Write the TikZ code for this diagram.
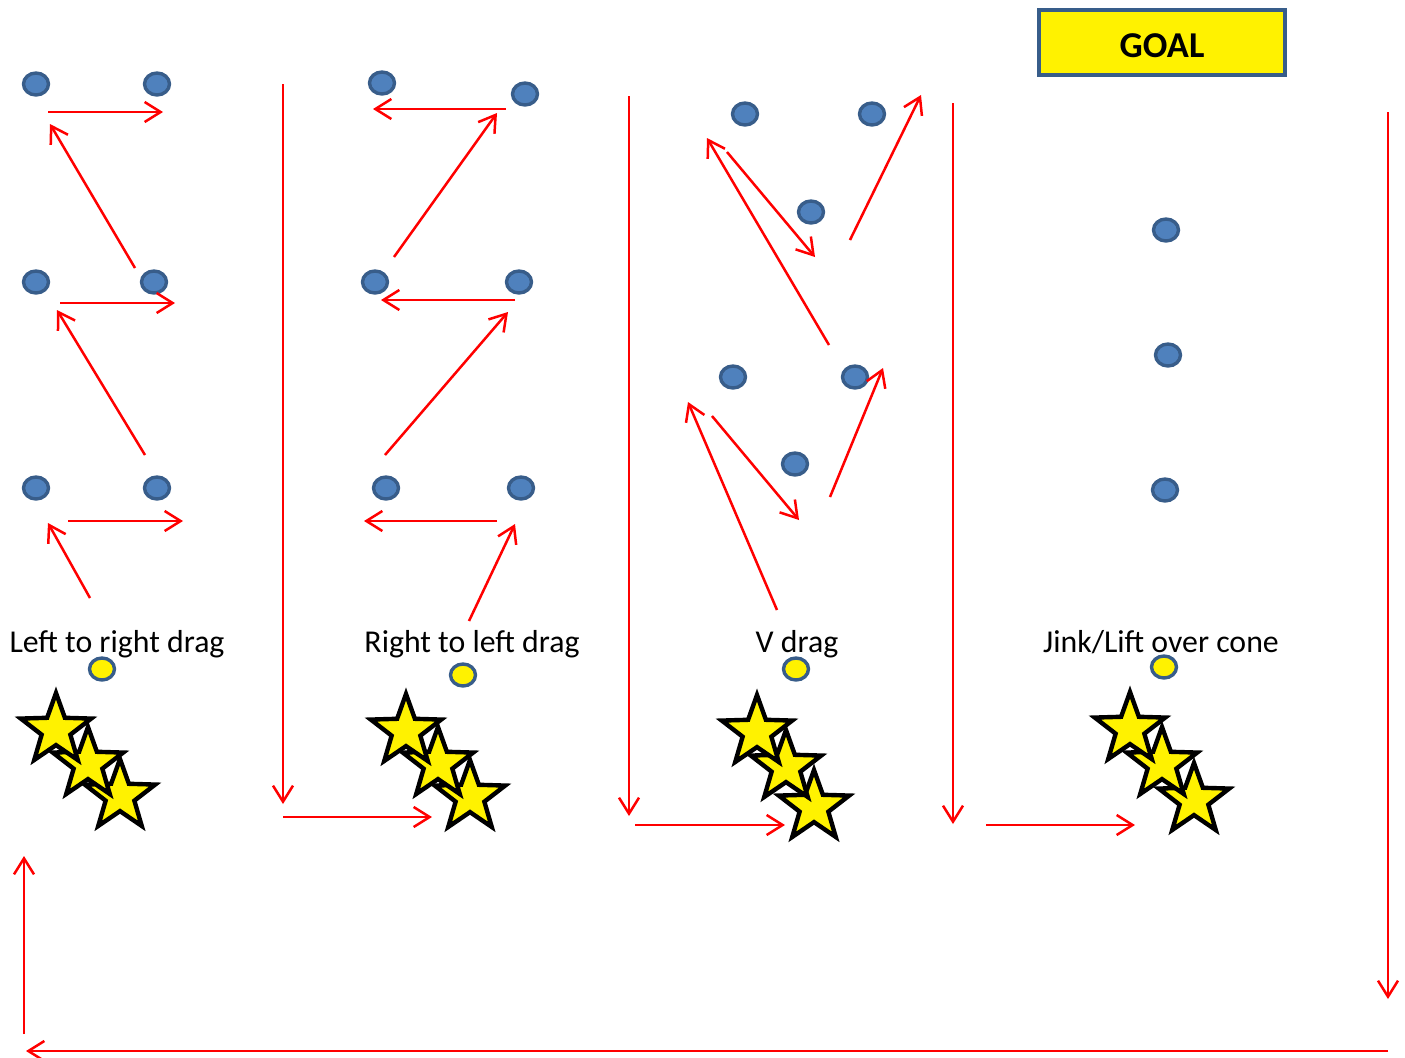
\documentclass[tikz,border=0pt]{standalone}
\usepackage{fontspec}
\setmainfont{Carlito}
\usetikzlibrary{arrows.meta,shapes.geometric}

\definecolor{conefill}{HTML}{4F81BD}
\definecolor{coneedge}{HTML}{385D8A}

\tikzset{
  cone/.style={ellipse, draw=coneedge, fill=conefill, line width=1.7pt,
    minimum width=12.5pt, minimum height=11pt, inner sep=0pt},
  ycone/.style={cone, fill=yellow},
  player/.style={star, star points=5, star point ratio=2.45, draw=black,
    fill=yellow, line width=2.2pt, minimum size=37pt, inner sep=0pt},
  run/.style={draw=red, line width=1.25pt, -{Straight Barb[length=8pt,width=10pt]}},
  drilltext/.style={anchor=base, font=\fontsize{15.9}{19}\selectfont, inner sep=0pt},
  goalbox/.style={rectangle, draw=coneedge, fill=yellow, line width=2pt,
    minimum width=123pt, minimum height=32.5pt, inner sep=0pt},
}

\begin{document}
\begin{tikzpicture}[x=0.5pt, y=-0.5pt]
	\useasboundingbox (0,0) rectangle (1405,1057);

	% goal
	\node[goalbox] (goal) at (1162,42) {};
	\node[font=\fontsize{18.2}{22}\selectfont\bfseries] (goaltxt) at (1162,46) {GOAL};

	% left to right drag
	\node[cone] (c11) at (36,84) {};
	\node[cone] (c12) at (157,84) {};
	\node[cone] (c13) at (36,282) {};
	\node[cone] (c14) at (154,282) {};
	\node[cone] (c15) at (36,488) {};
	\node[cone] (c16) at (157,488) {};
	\node[drilltext] (t1) at (117,652) {Left to right drag};
	\node[ycone] (y1) at (102,669) {};
	\node[player] (p13) at (120,796) {};
	\node[player] (p12) at (88,764) {};
	\node[player] (p11) at (56,730) {};

	\coordinate (a1) at (48,112);  \coordinate (b1) at (163,112);
	\coordinate (a2) at (135,268); \coordinate (b2) at (50,124);
	\coordinate (a3) at (60,303);  \coordinate (b3) at (175,303);
	\coordinate (a4) at (145,455); \coordinate (b4) at (57,310);
	\coordinate (a5) at (68,521);  \coordinate (b5) at (183,521);
	\coordinate (a6) at (90,598);  \coordinate (b6) at (48,523);
	\foreach \i in {1,...,6} \draw[run] (a\i) -- (b\i);

	% right to left drag
	\node[cone] (c21) at (382,83) {};
	\node[cone] (c22) at (525,94) {};
	\node[cone] (c23) at (375,282) {};
	\node[cone] (c24) at (519,282) {};
	\node[cone] (c25) at (386,488) {};
	\node[cone] (c26) at (521,488) {};
	\node[drilltext] (t2) at (472,652) {Right to left drag};
	\node[ycone] (y2) at (463,675) {};
	\node[player] (p23) at (470,797) {};
	\node[player] (p22) at (438,764) {};
	\node[player] (p21) at (406,731) {};

	\coordinate (d1) at (506,109); \coordinate (e1) at (373,109);
	\coordinate (d2) at (394,257); \coordinate (e2) at (497,113);
	\coordinate (d3) at (515,300); \coordinate (e3) at (381,300);
	\coordinate (d4) at (385,455); \coordinate (e4) at (508,312);
	\coordinate (d5) at (497,521); \coordinate (e5) at (364,521);
	\coordinate (d6) at (469,621); \coordinate (e6) at (515,524);
	\foreach \i in {1,...,6} \draw[run] (d\i) -- (e\i);

	% V drag
	\node[cone] (c31) at (745,114) {};
	\node[cone] (c32) at (872,114) {};
	\node[cone] (c33) at (811,212) {};
	\node[cone] (c34) at (733,377) {};
	\node[cone] (c35) at (855,377) {};
	\node[cone] (c36) at (795,464) {};
	\node[drilltext] (t3) at (797,652) {V drag};
	\node[ycone] (y3) at (796,669) {};
	\node[player] (p33) at (814,807) {};
	\node[player] (p32) at (786,767) {};
	\node[player] (p31) at (757,732) {};

	\coordinate (f1) at (829,345); \coordinate (g1) at (707,138);
	\coordinate (f2) at (727,152); \coordinate (g2) at (815,257);
	\coordinate (f3) at (850,240); \coordinate (g3) at (921,95);
	\coordinate (f4) at (777,610); \coordinate (g4) at (688,402);
	\coordinate (f5) at (712,416); \coordinate (g5) at (799,520);
	\coordinate (f6) at (830,497); \coordinate (g6) at (883,368);
	\foreach \i in {1,...,6} \draw[run] (f\i) -- (g\i);

	% jink / lift
	\node[cone] (c41) at (1166,230) {};
	\node[cone] (c42) at (1168,355) {};
	\node[cone] (c43) at (1165,490) {};
	\node[drilltext] (t4) at (1161,652) {Jink/Lift over cone};
	\node[ycone] (y4) at (1164,667) {};
	\node[player] (p43) at (1194,800) {};
	\node[player] (p42) at (1162,764) {};
	\node[player] (p41) at (1130,729) {};

	% rotation between stations
	\coordinate (r1) at (283,84);   \coordinate (s1) at (283,804);
	\coordinate (r2) at (283,817);  \coordinate (s2) at (432,817);
	\coordinate (r3) at (629,96);   \coordinate (s3) at (629,816);
	\coordinate (r4) at (635,825);  \coordinate (s4) at (785,825);
	\coordinate (r5) at (953,103);  \coordinate (s5) at (953,824);
	\coordinate (r6) at (986,825);  \coordinate (s6) at (1135,825);
	\coordinate (r7) at (1388,112); \coordinate (s7) at (1388,999);
	\coordinate (r8) at (1388,1051); \coordinate (s8) at (26,1051);
	\coordinate (r9) at (24,1034);  \coordinate (s9) at (24,856);
	\foreach \i in {1,...,9} \draw[run] (r\i) -- (s\i);
\end{tikzpicture}
\end{document}
